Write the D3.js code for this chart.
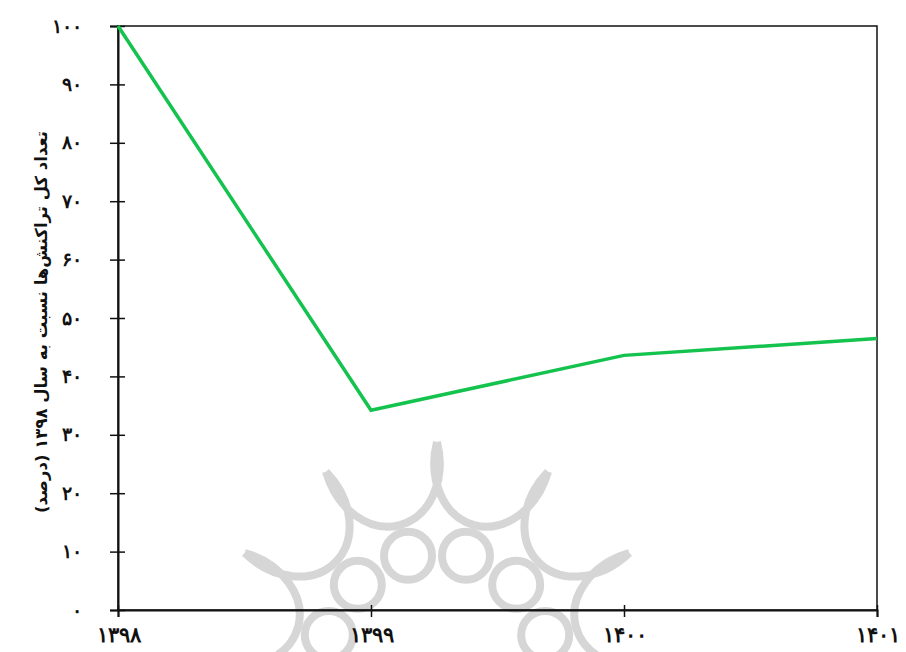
<!DOCTYPE html>
<html>
<head>
<meta charset="utf-8">
<script src="https://cdn.jsdelivr.net/npm/d3@7/dist/d3.min.js"></script>
<style>
  body { margin: 0; background: #fff; }
  svg { display: block; font-family: "DejaVu Sans", sans-serif; }
</style>
</head>
<body>
<svg width="906" height="652"></svg>
<script>
const years = ['1398', '1399', '1400', '1401']
const values = [100, 34.2, 43.6, 46.5]
const yTicks = [0, 10, 20, 30, 40, 50, 60, 70, 80, 90, 100]
const yTitle = 'تعداد کل تراکنش‌ها نسبت به سال ۱۳۹۸ (درصد)'

const W = 906, H = 652
const margin = { top: 26, right: 29, bottom: 42, left: 118 }
const svg = d3.select('svg')

const fa = s => String(s).replace(/\d/g, d => '۰۱۲۳۴۵۶۷۸۹'[d])

const x = d3.scalePoint().domain(years).range([margin.left, W - margin.right])
const y = d3.scaleLinear().domain([0, 100]).range([H - margin.bottom, margin.top])

// watermark rosette (decorative)
const wm = svg.append('g').attr('fill', 'none').attr('stroke', '#d6d6d6').attr('stroke-width', 8)
const cx = 437, cy = 664
const rad = a => a * Math.PI / 180
const pt = (a, r) => [cx + r * Math.sin(rad(a)), cy - r * Math.cos(rad(a))]
for (let a = -165; a <= 165; a += 30) {
  const [px, py] = pt(a, 112)
  wm.append('circle').attr('cx', px).attr('cy', py).attr('r', 24)
}
const tipR = 222
const halfChord = tipR * Math.sin(rad(15)) + 0.01
for (let a = -180; a < 180; a += 30) {
  const p1 = pt(a, tipR), p2 = pt(a + 30, tipR)
  wm.append('path').attr('d', `M${p1[0]},${p1[1]} A${halfChord},72 ${a + 15} 0 0 ${p2[0]},${p2[1]}`)
}

// frame
svg.append('rect')
  .attr('x', margin.left).attr('y', margin.top)
  .attr('width', W - margin.left - margin.right)
  .attr('height', H - margin.top - margin.bottom)
  .attr('fill', 'none').attr('stroke', '#111').attr('stroke-width', 1.5)

// y axis
const yAxis = svg.append('g')
  .attr('transform', `translate(${margin.left},0)`)
  .call(d3.axisLeft(y).tickValues(yTicks).tickSize(8).tickPadding(28).tickFormat(fa))
yAxis.select('.domain').attr('stroke', '#111').attr('stroke-width', 2)
yAxis.selectAll('.tick line').attr('x2', 7).attr('x1', -8).attr('stroke', '#111').attr('stroke-width', 1.5)
yAxis.selectAll('.tick text').attr('font-size', 19).attr('letter-spacing', -1.5)
  .attr('font-weight', 'bold').attr('fill', '#111')

// x axis
const xAxis = svg.append('g')
  .attr('transform', `translate(0,${H - margin.bottom})`)
  .call(d3.axisBottom(x).tickSize(7).tickPadding(10).tickFormat(fa))
xAxis.select('.domain').attr('stroke', '#111').attr('stroke-width', 2)
xAxis.selectAll('.tick line').attr('y1', -5).attr('stroke', '#111').attr('stroke-width', 1.5)
xAxis.selectAll('.tick text').attr('font-size', 21).attr('font-weight', 'bold').attr('fill', '#111')

// y title
svg.append('text')
  .attr('transform', `translate(42,${(margin.top + H - margin.bottom) / 2 + 4}) rotate(-90)`)
  .attr('text-anchor', 'middle')
  .attr('dominant-baseline', 'middle')
  .attr('direction', 'rtl')
  .attr('font-size', 16.5)
  .attr('font-weight', 'bold')
  .attr('fill', '#111')
  .text(yTitle)

// line
svg.append('path')
  .datum(values)
  .attr('fill', 'none')
  .attr('stroke', '#14c24e')
  .attr('stroke-width', 3.5)
  .attr('d', d3.line().x((d, i) => x(years[i])).y(d => y(d)))
</script>
</body>
</html>
